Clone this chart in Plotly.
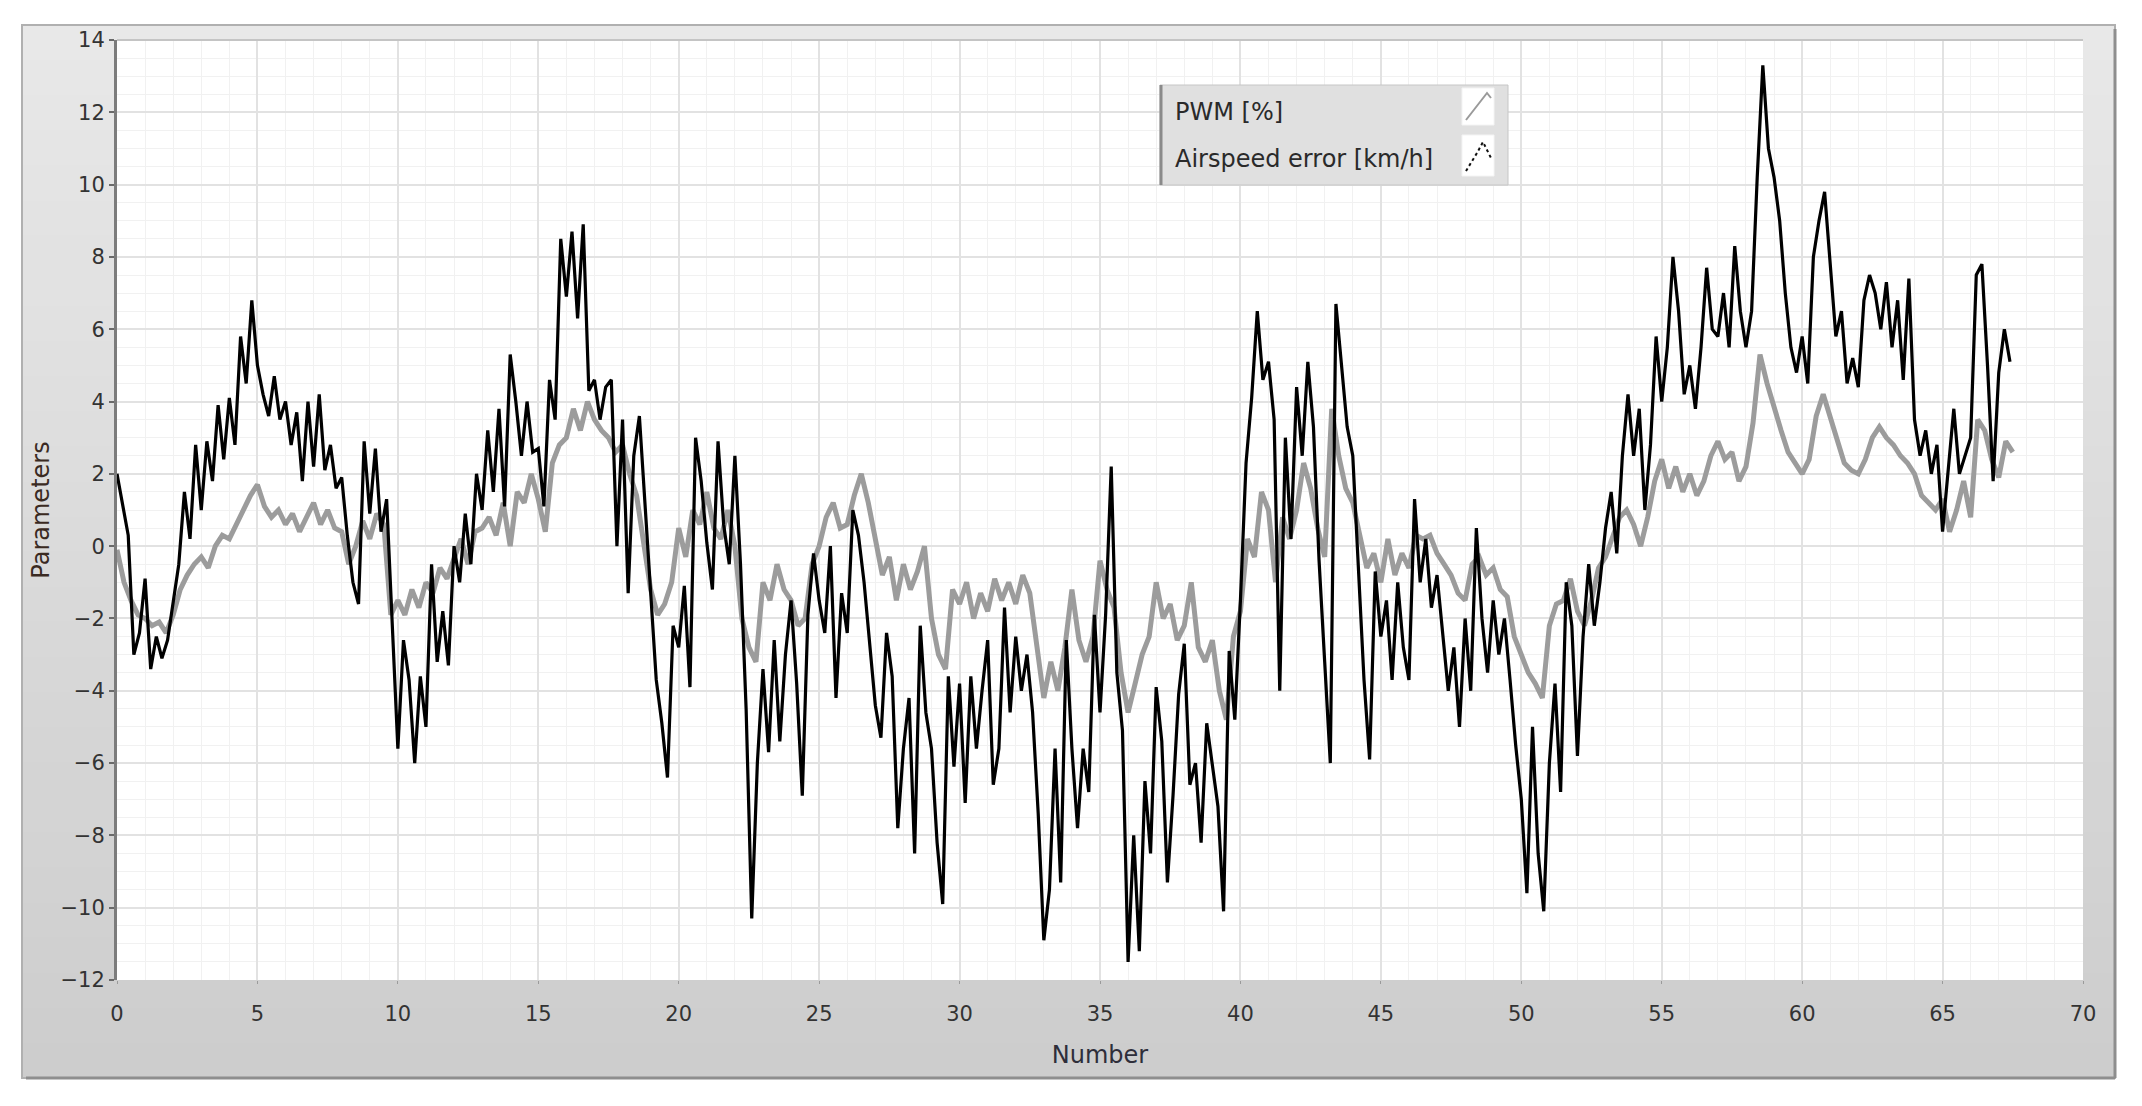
import numpy as np
import plotly.graph_objects as go

# ---------------- data ----------------
# PWM [%] sampled every 0.25 on the "Number" axis, starting at 0
pwm_step = 0.25
pwm = [
    -0.1, -1.0, -1.5, -1.9,   -2.0, -2.2, -2.1, -2.4,   -1.9, -1.2, -0.8, -0.5,
    -0.3, -0.6, 0.0, 0.3,     0.2, 0.6, 1.0, 1.4,       1.7, 1.1, 0.8, 1.0,
    0.6, 0.9, 0.4, 0.8,       1.2, 0.6, 1.0, 0.5,       0.4, -0.5, 0.0, 0.7,
    0.2, 0.9, 0.6, -1.9,      -1.5, -1.9, -1.2, -1.7,   -1.0, -1.3, -0.6, -0.9,
    -0.3, 0.2, -0.5, 0.4,     0.5, 0.8, 0.3, 1.2,       0.0, 1.5, 1.2, 2.0,
    1.3, 0.4, 2.3, 2.8,       3.0, 3.8, 3.2, 4.0,       3.5, 3.2, 3.0, 2.6,
    2.8, 2.0, 1.4, 0.2,       -1.2, -1.9, -1.6, -1.0,   0.5, -0.3, 1.0, 0.6,
    1.5, 0.5, 0.2, 1.0,       0.0, -2.0, -2.8, -3.2,    -1.0, -1.5, -0.5, -1.2,
    -1.5, -2.2, -2.0, -0.5,   0.0, 0.8, 1.2, 0.5,       0.6, 1.4, 2.0, 1.2,
    0.2, -0.8, -0.3, -1.5,    -0.5, -1.2, -0.7, 0.0,    -2.0, -3.0, -3.4, -1.2,
    -1.6, -1.0, -2.0, -1.3,   -1.8, -0.9, -1.5, -1.0,   -1.6, -0.8, -1.3, -2.8,
    -4.2, -3.2, -4.0, -2.8,   -1.2, -2.6, -3.2, -2.5,   -0.4, -1.2, -1.7, -3.5,
    -4.6, -3.8, -3.0, -2.5,   -1.0, -2.0, -1.6, -2.6,   -2.2, -1.0, -2.8, -3.2,
    -2.6, -4.0, -4.8, -2.5,   -1.8, 0.2, -0.3, 1.5,     1.0, -1.0, 0.8, 0.2,
    1.0, 2.3, 1.6, 0.5,       -0.3, 3.8, 2.5, 1.6,      1.2, 0.3, -0.6, -0.2,
    -1.0, 0.2, -0.8, -0.2,    -0.6, 0.3, 0.2, 0.3,      -0.2, -0.5, -0.8, -1.3,
    -1.5, -0.5, -0.3, -0.8,   -0.6, -1.2, -1.4, -2.5,   -3.0, -3.5, -3.8, -4.2,
    -2.2, -1.6, -1.5, -0.9,   -1.8, -2.2, -1.5, -0.6,   -0.3, 0.3, 0.8, 1.0,
    0.6, 0.0, 0.8, 1.8,       2.4, 1.6, 2.2, 1.5,       2.0, 1.4, 1.8, 2.5,
    2.9, 2.4, 2.6, 1.8,       2.2, 3.4, 5.3, 4.5,       3.8, 3.2, 2.6, 2.3,
    2.0, 2.4, 3.6, 4.2,       3.6, 2.9, 2.3, 2.1,       2.0, 2.4, 3.0, 3.3,
    3.0, 2.8, 2.5, 2.3,       2.0, 1.4, 1.2, 1.0,       1.3, 0.4, 1.0, 1.8,
    0.8, 3.5, 3.2, 2.4,       1.9, 2.9, 2.6,
]

# Airspeed error [km/h] sampled every 0.2 on the "Number" axis, starting at 0
air_step = 0.2
airspeed = [
    2.0, 1.2, 0.3, -3.0, -2.4,      -0.9, -3.4, -2.5, -3.1, -2.6,
    -1.5, -0.5, 1.5, 0.2, 2.8,      1.0, 2.9, 1.8, 3.9, 2.4,
    4.1, 2.8, 5.8, 4.5, 6.8,        5.0, 4.2, 3.6, 4.7, 3.5,
    4.0, 2.8, 3.7, 1.8, 4.0,        2.2, 4.2, 2.1, 2.8, 1.6,
    1.9, 0.3, -1.0, -1.6, 2.9,      0.9, 2.7, 0.4, 1.3, -2.0,
    -5.6, -2.6, -3.7, -6.0, -3.6,   -5.0, -0.5, -3.2, -1.8, -3.3,
    0.0, -1.0, 0.9, -0.5, 2.0,      1.0, 3.2, 1.5, 3.8, 1.1,
    5.3, 4.0, 2.5, 4.0, 2.6,        2.7, 1.1, 4.6, 3.5, 8.5,
    6.9, 8.7, 6.3, 8.9, 4.3,        4.6, 3.5, 4.4, 4.6, 0.0,
    3.5, -1.3, 2.5, 3.6, 1.2,       -1.1, -3.7, -4.9, -6.4, -2.2,
    -2.8, -1.1, -3.9, 3.0, 1.8,     0.1, -1.2, 2.9, 0.6, -0.5,
    2.5, -0.5, -4.5, -10.3, -6.0,   -3.4, -5.7, -2.6, -5.4, -3.0,
    -1.5, -3.8, -6.9, -1.9, -0.2,   -1.5, -2.4, 0.0, -4.2, -1.3,
    -2.4, 1.0, 0.3, -1.0, -2.6,     -4.4, -5.3, -2.4, -3.6, -7.8,
    -5.6, -4.2, -8.5, -2.2, -4.6,   -5.6, -8.2, -9.9, -3.6, -6.1,
    -3.8, -7.1, -3.6, -5.6, -4.0,   -2.6, -6.6, -5.6, -1.7, -4.6,
    -2.5, -4.0, -3.0, -4.6, -7.4,   -10.9, -9.5, -5.6, -9.3, -2.6,
    -5.6, -7.8, -5.6, -6.8, -1.9,   -4.6, -1.9, 2.2, -3.5, -5.1,
    -11.5, -8.0, -11.2, -6.5, -8.5, -3.9, -5.4, -9.3, -6.9, -4.1,
    -2.7, -6.6, -6.0, -8.2, -4.9,   -6.0, -7.2, -10.1, -2.9, -4.8,
    -1.5, 2.3, 4.1, 6.5, 4.6,       5.1, 3.5, -4.0, 3.0, 0.2,
    4.4, 2.5, 5.1, 3.3, -0.4,       -3.2, -6.0, 6.7, 4.9, 3.3,
    2.5, -0.7, -3.7, -5.9, -0.7,    -2.5, -1.5, -3.7, -1.0, -2.8,
    -3.7, 1.3, -1.0, 0.2, -1.7,     -0.8, -2.5, -4.0, -2.8, -5.0,
    -2.0, -4.0, 0.5, -2.0, -3.5,    -1.5, -3.0, -2.0, -3.7, -5.5,
    -7.0, -9.6, -5.0, -8.5, -10.1,  -6.0, -3.8, -6.8, -1.0, -2.2,
    -5.8, -2.5, -0.5, -2.2, -1.0,   0.5, 1.5, -0.2, 2.5, 4.2,
    2.5, 3.8, 1.0, 2.8, 5.8,        4.0, 5.5, 8.0, 6.5, 4.2,
    5.0, 3.8, 5.5, 7.7, 6.0,        5.8, 7.0, 5.5, 8.3, 6.5,
    5.5, 6.5, 10.2, 13.3, 11.0,     10.2, 9.0, 7.0, 5.5, 4.8,
    5.8, 4.5, 8.0, 9.0, 9.8,        7.8, 5.8, 6.5, 4.5, 5.2,
    4.4, 6.8, 7.5, 7.0, 6.0,        7.3, 5.5, 6.8, 4.6, 7.4,
    3.5, 2.5, 3.2, 2.0, 2.8,        0.4, 2.2, 3.8, 2.0, 2.5,
    3.0, 7.5, 7.8, 5.0, 1.8,        4.8, 6.0, 5.1,
]

series_names = ["PWM [%]", "Airspeed error [km/h]"]
x_ticks = [0, 5, 10, 15, 20, 25, 30, 35, 40, 45, 50, 55, 60, 65, 70]
y_ticks = [-12, -10, -8, -6, -4, -2, 0, 2, 4, 6, 8, 10, 12, 14]

x_pwm = np.round(np.arange(len(pwm)) * pwm_step, 3)
x_air = np.round(np.arange(len(airspeed)) * air_step, 3)

# ---------------- geometry (screen pixels; page body has an 8px margin) ----------------
OFF = 8
W, H = 2142 - 2 * OFF, 1106 - 2 * OFF
PL, PR, PT, PB = 117, 2083, 40, 980          # plot area in screen pixels
PW, PH = PR - PL, PB - PT


def px(x):
    return (x - PL) / PW


def py(y):
    return (PB - y) / PH


FONT = "DejaVu Sans"
TXT = "#333333"

fig = go.Figure()
fig.add_trace(go.Scatter(x=x_pwm, y=pwm, mode="lines", name=series_names[0],
                         line=dict(color="#9c9c9c", width=5), showlegend=False))
fig.add_trace(go.Scatter(x=x_air, y=airspeed, mode="lines", name=series_names[1],
                         line=dict(color="#000000", width=3.2), showlegend=False))

shapes = []
# outer grey panel with a vertical gradient
top, bot = 25, 1078
left, right = 22, 2115
nb = 30
c0, c1 = np.array([233, 233, 233]), np.array([205, 205, 205])
for i in range(nb):
    ya = top + (bot - top) * i / nb
    yb = top + (bot - top) * (i + 1) / nb + 1
    c = (c0 + (c1 - c0) * (i + 0.5) / nb).astype(int)
    shapes.append(dict(type="rect", xref="paper", yref="paper", layer="below",
                       x0=px(left), x1=px(right), y0=py(yb), y1=py(ya),
                       line=dict(width=0), fillcolor=f"rgb({c[0]},{c[1]},{c[2]})"))
shapes.append(dict(type="rect", xref="paper", yref="paper", layer="below",
                   x0=px(left), x1=px(right), y0=py(bot), y1=py(top),
                   line=dict(color="#b0b0b0", width=2), fillcolor="rgba(0,0,0,0)"))
shapes.append(dict(type="line", xref="paper", yref="paper", layer="below",
                   x0=px(right), x1=px(right), y0=py(bot), y1=py(top + 4),
                   line=dict(color="#8e8e8e", width=3)))
shapes.append(dict(type="line", xref="paper", yref="paper", layer="below",
                   x0=px(left + 4), x1=px(right), y0=py(bot), y1=py(bot),
                   line=dict(color="#8e8e8e", width=3)))
# white plotting area
shapes.append(dict(type="rect", xref="paper", yref="paper", layer="below",
                   x0=0, x1=1, y0=0, y1=1, line=dict(width=0), fillcolor="white"))
# top border of plot area
shapes.append(dict(type="line", xref="paper", yref="paper", layer="above",
                   x0=0, x1=1, y0=1, y1=1, line=dict(color="#c4c4c4", width=2)))

# custom legend box (text on the left, sample glyph on the right)
lg_l, lg_r, lg_t, lg_b = 1160, 1508, 85, 185
shapes.append(dict(type="rect", xref="paper", yref="paper", layer="above",
                   x0=px(lg_l), x1=px(lg_r), y0=py(lg_b), y1=py(lg_t),
                   line=dict(color="#c6c6c6", width=1), fillcolor="#e0e0e0"))
shapes.append(dict(type="line", xref="paper", yref="paper", layer="above",
                   x0=px(lg_l + 1), x1=px(lg_l + 1), y0=py(lg_b), y1=py(lg_t),
                   line=dict(color="#8a8a8a", width=3)))
for (b0, b1) in [(88, 125), (135, 176)]:
    shapes.append(dict(type="rect", xref="paper", yref="paper", layer="above",
                       x0=px(1462), x1=px(1494), y0=py(b1), y1=py(b0),
                       line=dict(color="#f4f4f4", width=1), fillcolor="white"))
shapes.append(dict(type="path", xref="paper", yref="paper", layer="above",
                   path=f"M {px(1466)},{py(120)} L {px(1487)},{py(93)} L {px(1491)},{py(98)}",
                   line=dict(color="#9a9a9a", width=2)))
shapes.append(dict(type="path", xref="paper", yref="paper", layer="above",
                   path=(f"M {px(1466)},{py(171)} L {px(1477)},{py(153)} "
                         f"L {px(1483)},{py(142)} L {px(1491)},{py(158)}"),
                   line=dict(color="#111111", width=2, dash="dot")))

annotations = [
    dict(xref="paper", yref="paper", x=px(1173), y=py(112), xanchor="left", yanchor="middle",
         text=series_names[0], showarrow=False, font=dict(family=FONT, size=24, color="#2a2a2a")),
    dict(xref="paper", yref="paper", x=px(1173), y=py(159), xanchor="left", yanchor="middle",
         text=series_names[1], showarrow=False, font=dict(family=FONT, size=24, color="#2a2a2a")),
]

fig.update_layout(
    width=W, height=H, autosize=False,
    margin=dict(l=PL - OFF, r=(W + OFF) - PR, t=PT - OFF, b=(H + OFF) - PB, pad=0),
    paper_bgcolor="white", plot_bgcolor="white",
    font=dict(family=FONT, size=21, color=TXT),
    showlegend=False,
    shapes=shapes, annotations=annotations,
    xaxis=dict(range=[0, 70], tickmode="array", tickvals=x_ticks,
               showgrid=True, gridcolor="#e2e2e2", gridwidth=2,
               minor=dict(tickmode="linear", tick0=0, dtick=1, showgrid=True,
                          gridcolor="#f1f1f1", gridwidth=1),
               zeroline=False, showline=False,
               ticks="outside", ticklen=3, tickcolor="#9a9a9a", ticklabelstandoff=12,
               tickfont=dict(family=FONT, size=21, color=TXT),
               title=dict(text="Number", standoff=20,
                          font=dict(family=FONT, size=24, color="#2e2e3a"))),
    yaxis=dict(range=[-12, 14], tickmode="array", tickvals=y_ticks,
               showgrid=True, gridcolor="#e2e2e2", gridwidth=2,
               minor=dict(tickmode="linear", tick0=0, dtick=0.5, showgrid=True,
                          gridcolor="#f1f1f1", gridwidth=1),
               zeroline=False, showline=True, linecolor="#7c7c7c", linewidth=3,
               ticks="outside", ticklen=5, tickwidth=2, tickcolor="#6a6a6a",
               tickfont=dict(family=FONT, size=21, color=TXT),
               title=dict(text="Parameters", standoff=5,
                          font=dict(family=FONT, size=24, color="#3a2a22"))),
)

fig.write_html("out.html")
